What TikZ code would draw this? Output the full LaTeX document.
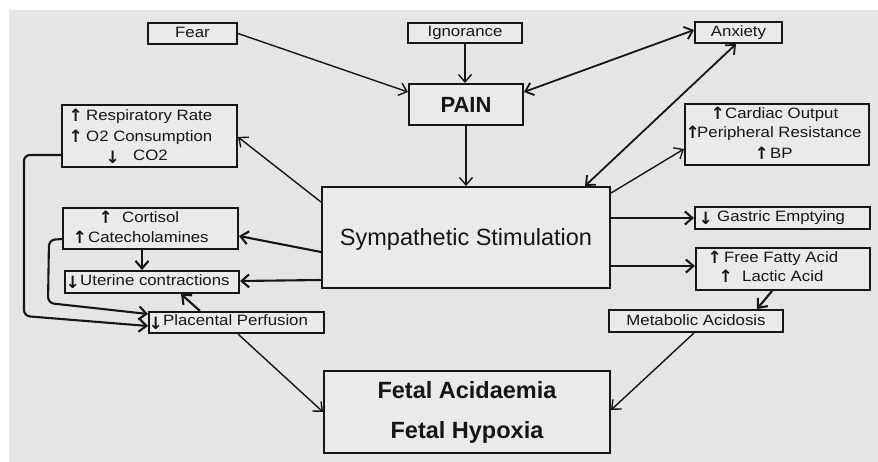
\documentclass[tikz,border=0pt]{standalone}
\usepackage{fontspec}
\setmainfont{Liberation Sans}
\newfontfamily\smallfnt[FakeStretch=1.12]{Liberation Sans}
\newfontfamily\symfnt{DejaVu Sans}
\usetikzlibrary{arrows.meta}

\definecolor{paper}{RGB}{229,229,229}
\definecolor{boxfill}{RGB}{234,234,234}
\definecolor{ink}{RGB}{22,22,22}

% increase / decrease markers set in front of the labels
\newcommand\upmark[1]{\makebox[#1][l]{\makebox[9pt][c]{\raisebox{-0.5pt}{\symfnt\bfseries\fontsize{17}{17}\selectfont ↑}}}}
\newcommand\downmark[1]{\makebox[#1][l]{\makebox[9pt][c]{\raisebox{-3pt}{\symfnt\bfseries\fontsize{17}{17}\selectfont ↓}}}}

\tikzset{
  box/.style n args={2}{draw=ink, line width=2pt, fill=boxfill, inner sep=0pt,
    minimum width=#1pt, minimum height=#2pt},
  small/.style={font=\smallfnt\fontsize{15}{15}\selectfont, text=ink},
  label box/.style n args={2}{box={#1}{#2}, small, text height=11pt, text depth=3pt},
  entry/.style={small, anchor=base west, inner sep=0pt},
  tip/.tip={Straight Barb[length=7.5pt,width=13pt]},
  link/.style={draw=ink, line width=1.4pt, -tip},
  heavy/.style={link, line width=2.1pt},
  twoway/.style={draw=ink, line width=1.8pt, tip-tip},
}

\begin{document}
\begin{tikzpicture}[x=1pt,y=-1pt]
\useasboundingbox (0,0) rectangle (878,462);
\fill[white] (0,0) rectangle (878,462);
\fill[paper] (9,10) rectangle (878,462);

% ---- boxes ----
\node[label box={89}{21}] (fear) at (192.5,33.5) {Fear};
\node[label box={114}{20}] (ign) at (465,33) {Ignorance};
\node[label box={87}{21}] (anx) at (738.5,32.5) {Anxiety};
\node[box={114}{41}, font=\bfseries\fontsize{22}{22}\selectfont, text=ink,
      text height=15.8pt, text depth=0pt] (pain) at (466,104.5) {PAIN};
\node[box={175}{62}] (resp) at (149.5,136) {};
\node[box={184}{61}] (card) at (777,134.5) {};
\node[box={288}{101}, font=\fontsize{23.5}{28}\selectfont, text=ink,
      text height=16.8pt, text depth=0pt] (symp) at (466,237.5) {Sympathetic Stimulation};
\node[box={175}{41}] (cort) at (150.5,228.5) {};
\node[box={174}{22}] (uter) at (152,282) {};
\node[box={175}{21}] (plac) at (236.5,322.5) {};
\node[box={175}{22}] (gast) at (782.5,218) {};
\node[box={174}{42}] (ffa) at (783,269) {};
\node[label box={174}{22}] (meta) at (696,321) {Metabolic Acidosis};
\node[box={286}{82}, font=\bfseries\fontsize{23.5}{40}\selectfont, text=ink,
      align=center] (fetal) at (467,412) {Fetal Acidaemia\\Fetal Hypoxia};

% ---- box contents ----
\node[entry] (resp1) at (71,121) {\upmark{15pt}Respiratory Rate};
\node[entry] (resp2) at (71,142) {\upmark{15pt}O2 Consumption};
\node[entry] (resp3) at (108,161) {\downmark{25pt}CO2};
\node[entry] (card1) at (713,119) {\upmark{12pt}Cardiac Output};
\node[entry] (card2) at (688,138) {\upmark{9pt}Peripheral Resistance};
\node[entry] (card3) at (757,159) {\upmark{13pt}BP};
\node[entry] (cort1) at (101,223) {\upmark{21pt}Cortisol};
\node[entry] (cort2) at (75,243) {\upmark{13pt}Catecholamines};
\node[entry] (uter1) at (68,286) {\downmark{12pt}Uterine contractions};
\node[entry] (plac1) at (151,326) {\downmark{12pt}Placental Perfusion};
\node[entry] (gast1) at (701,222) {\downmark{16pt}Gastric Emptying};
\node[entry] (ffa1) at (710,263) {\upmark{14pt}Free Fatty Acid};
\node[entry] (ffa2) at (721,282) {\upmark{21pt}Lactic Acid};

% ---- connectors ----
\draw[link] (fear.east) -- (pain.west |- 0,92);
\draw[link] (ign.south) -- (ign.south |- pain.north);
\draw[twoway] (pain.east |- 0,92) -- (anx.west |- 0,30);
\draw[twoway] (symp.north -| 585,0) -- (anx.south -| 736,0);
\draw[link] (pain.south) -- (pain.south |- symp.north);
\draw[link] (symp.east |- 0,193) -- (card.west |- 0,149);
\draw[heavy] (symp.east |- 0,218) -- (gast.west);
\draw[heavy] (symp.east |- 0,266) -- (ffa.west |- 0,266);
\draw[heavy] (ffa.south -| 772,0) -- (meta.north -| 757,0);
\draw[link] (meta.south -| 694,0) -- (fetal.east |- 0,410);
\draw[link] (plac.south -| 238,0) -- (fetal.west |- 0,412);
\draw[link] (symp.west |- 0,202) -- (resp.east |- 0,137);
\draw[heavy] (symp.west |- 0,252) -- (cort.east |- 0,236);
\draw[heavy] (symp.west |- 0,280) -- (uter.east |- 0,281);
\draw[heavy] (cort.south -| 142,0) -- (uter.north -| 142,0);
\draw[heavy] (plac.north -| 200,0) -- (uter.south -| 181,0);
\draw[heavy, rounded corners=6pt] (cort.west |- 0,239) -- (49,240) -- (48,303)
  -- (plac.west |- 0,314);
\draw[heavy, rounded corners=6pt] (resp.west |- 0,155) -- (24,155) -- (24,316)
  -- (plac.west |- 0,326);
\end{tikzpicture}
\end{document}
